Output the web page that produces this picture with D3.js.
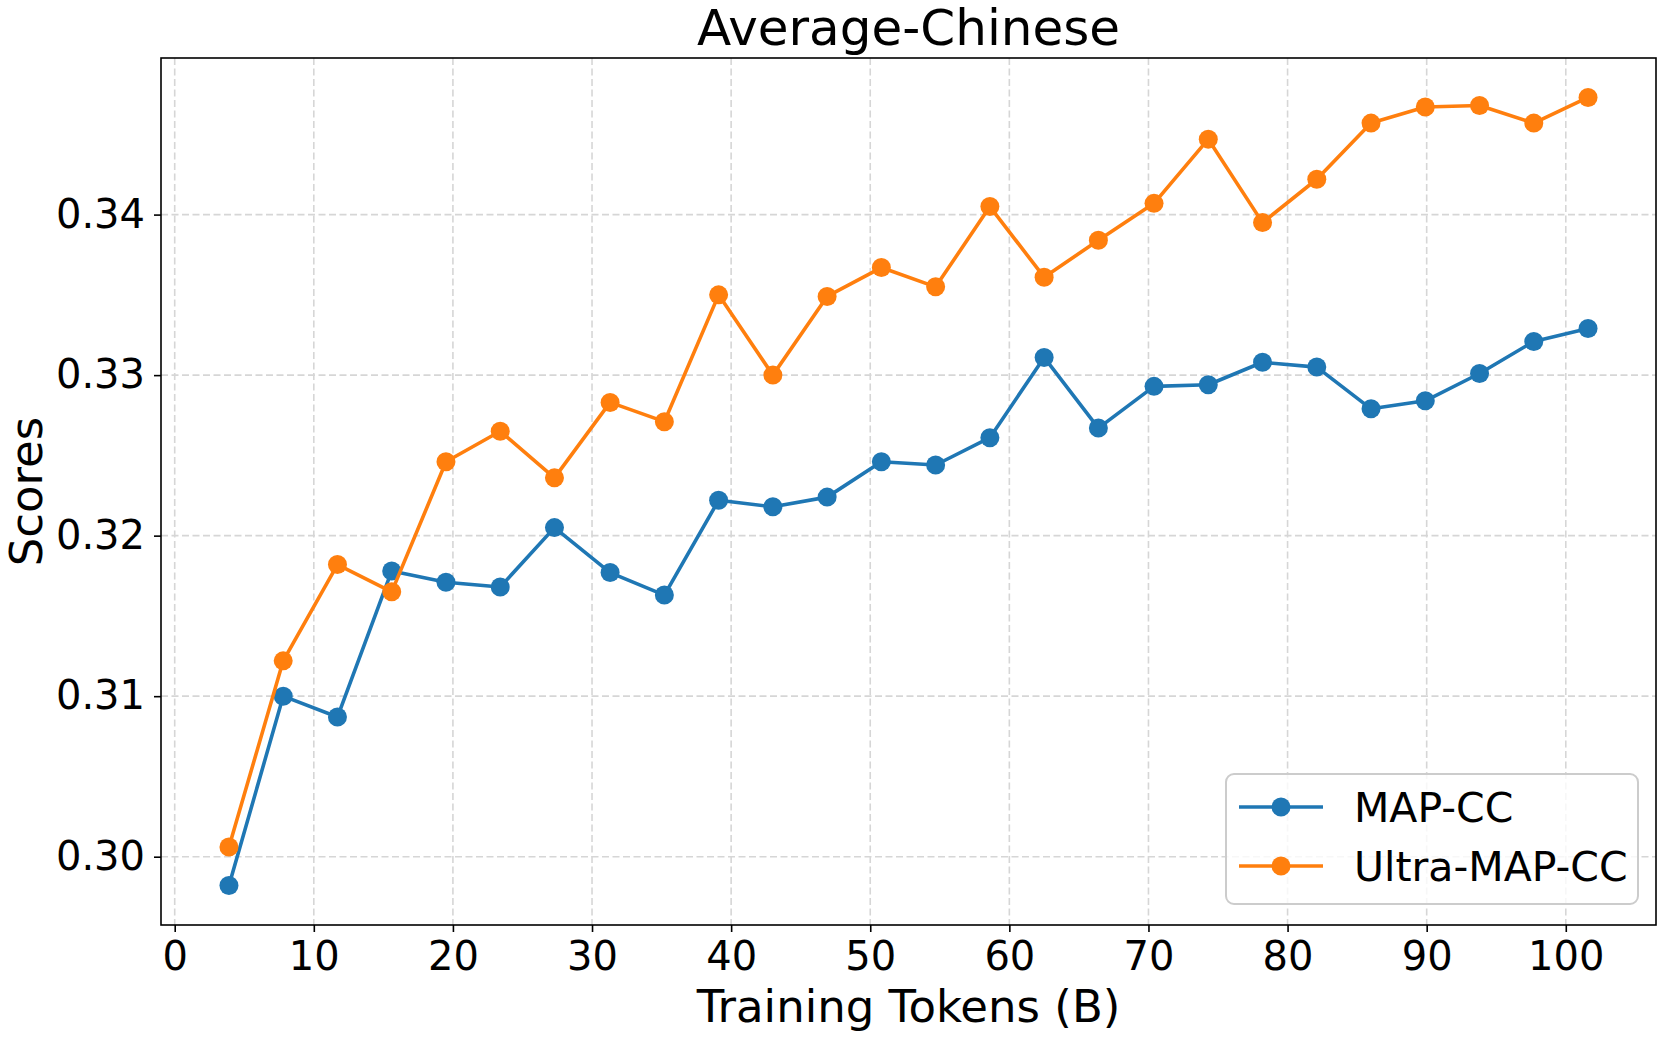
<!DOCTYPE html>
<html><head><meta charset="utf-8">
<script src="https://cdn.jsdelivr.net/npm/d3@7"></script>
<style>body{margin:0;background:#fff}svg{display:block}</style>
</head><body><svg id="c" width="1661" height="1037"></svg>
<script>
const tokens = [3.9, 7.8, 11.7, 15.6, 19.5, 23.4, 27.3, 31.3, 35.2, 39.1, 43.0, 46.9, 50.8, 54.7, 58.6, 62.5, 66.4, 70.4, 74.3, 78.2, 82.1, 86.0, 89.9, 93.8, 97.7, 101.6];
const mapCC = [0.2982, 0.3100, 0.3087, 0.3178, 0.3171, 0.3168, 0.3205, 0.3177, 0.3163, 0.3222, 0.3218, 0.3224, 0.3246, 0.3244, 0.3261, 0.3311, 0.3267, 0.3293, 0.3294, 0.3308, 0.3305, 0.3279, 0.3284, 0.3301, 0.3321, 0.3329];
const ultraMapCC = [0.3006, 0.3122, 0.3182, 0.3165, 0.3246, 0.3265, 0.3236, 0.3283, 0.3271, 0.3350, 0.3300, 0.3349, 0.3367, 0.3355, 0.3405, 0.3361, 0.3384, 0.3407, 0.3447, 0.3395, 0.3422, 0.3457, 0.3467, 0.3468, 0.3457, 0.3473];
const seriesNames = ["MAP-CC", "Ultra-MAP-CC"];
const seriesColors = ["#1f77b4", "#ff7f0e"];
const xTicks = [0, 10, 20, 30, 40, 50, 60, 70, 80, 90, 100];
const yTicks = [0.30, 0.31, 0.32, 0.33, 0.34];
const titleText = "Average-Chinese";
const xLabel = "Training Tokens (B)";
const yLabel = "Scores";

const svg = d3.select("#c");
const L = 161, R = 1656, T = 58, B = 925;
const font = "DejaVu Sans, sans-serif";

const xe = d3.extent(tokens), xp = (xe[1] - xe[0]) * 0.05;
const allY = mapCC.concat(ultraMapCC);
const ye = d3.extent(allY), yp = (ye[1] - ye[0]) * 0.05;
const x = d3.scaleLinear().domain([xe[0] - xp, xe[1] + xp]).range([L, R]);
const y = d3.scaleLinear().domain([ye[0] - yp, ye[1] + yp]).range([B, T]);

// grid
const grid = svg.append("g").attr("stroke", "#d6d6d6").attr("stroke-width", 1.6).attr("stroke-dasharray", "7,3.5");
grid.selectAll(".gx").data(xTicks).join("line").attr("x1", d => x(d)).attr("x2", d => x(d)).attr("y1", T).attr("y2", B);
grid.selectAll(".gy").data(yTicks).join("line").attr("y1", d => y(d)).attr("y2", d => y(d)).attr("x1", L).attr("x2", R);

// axes
const xAxis = d3.axisBottom(x).tickValues(xTicks).tickSize(7).tickPadding(8).tickFormat(d3.format("d"));
const yAxis = d3.axisLeft(y).tickValues(yTicks).tickSize(7).tickPadding(9).tickFormat(d3.format(".2f"));
const gx = svg.append("g").attr("transform", `translate(0,${B})`).call(xAxis);
const gy = svg.append("g").attr("transform", `translate(${L},0)`).call(yAxis);
[gx, gy].forEach(g => {
  g.select(".domain").remove();
  g.selectAll(".tick line").attr("stroke", "#000").attr("stroke-width", 1.6);
  g.selectAll(".tick text").attr("font-family", font).attr("font-size", 40).attr("fill", "#000");
});
gx.selectAll(".tick text").attr("dy", "0.75em");

// series
const sets = [mapCC, ultraMapCC];
const line = d3.line().x(d => x(d[0])).y(d => y(d[1]));
sets.forEach((vals, i) => {
  const pts = tokens.map((t, j) => [t, vals[j]]);
  const g = svg.append("g");
  g.append("path").datum(pts).attr("d", line).attr("fill", "none")
    .attr("stroke", seriesColors[i]).attr("stroke-width", 3.6).attr("stroke-linejoin", "round");
  g.selectAll("circle").data(pts).join("circle")
    .attr("cx", d => x(d[0])).attr("cy", d => y(d[1])).attr("r", 9.5).attr("fill", seriesColors[i]);
});

// spines
svg.append("rect").attr("x", L).attr("y", T).attr("width", R - L).attr("height", B - T)
  .attr("fill", "none").attr("stroke", "#000").attr("stroke-width", 1.6);

// title & labels
svg.append("text").attr("x", (L + R) / 2).attr("y", 45).attr("text-anchor", "middle")
  .attr("font-family", font).attr("font-size", 50).text(titleText);
svg.append("text").attr("x", (L + R) / 2).attr("y", 1022).attr("text-anchor", "middle")
  .attr("font-family", font).attr("font-size", 45).text(xLabel);
svg.append("text").attr("transform", `translate(42,${(T + B) / 2}) rotate(-90)`).attr("text-anchor", "middle")
  .attr("font-family", font).attr("font-size", 45).text(yLabel);

// legend
const lg = svg.append("g");
lg.append("rect").attr("x", 1226).attr("y", 774).attr("width", 412).attr("height", 130).attr("rx", 8)
  .attr("fill", "#fff").attr("fill-opacity", 0.8).attr("stroke", "#cccccc").attr("stroke-width", 2);
seriesNames.forEach((n, i) => {
  const yy = 807 + i * 59;
  lg.append("line").attr("x1", 1239).attr("x2", 1323).attr("y1", yy).attr("y2", yy)
    .attr("stroke", seriesColors[i]).attr("stroke-width", 3.6);
  lg.append("circle").attr("cx", 1281).attr("cy", yy).attr("r", 9.5).attr("fill", seriesColors[i]);
  lg.append("text").attr("x", 1354).attr("y", yy).attr("dy", "0.36em")
    .attr("font-family", font).attr("font-size", 41).text(n);
});
</script></body></html>
